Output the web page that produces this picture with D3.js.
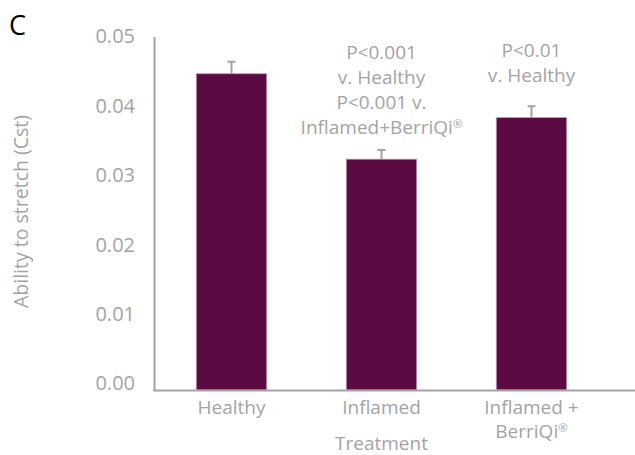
<!DOCTYPE html>
<html>
<head>
<meta charset="utf-8">
<script src="https://cdn.jsdelivr.net/npm/d3@7"></script>
<style>
  html, body { margin: 0; padding: 0; background: #fff; }
  svg { display: block; font-family: "Open Sans", sans-serif; }
</style>
</head>
<body>
<svg id="chart" width="635" height="455"></svg>
<script>
// Lung compliance by treatment group
const categories = ["Healthy", "Inflamed", "Inflamed + BerriQi®"];
const categoryLines = [["Healthy"], ["Inflamed"], ["Inflamed +", "BerriQi®"]];
const values = [0.0448, 0.0327, 0.0386];
const errors = [0.0017, 0.0013, 0.0016];
const yTicks = [0, 0.01, 0.02, 0.03, 0.04, 0.05];
const annotations = [
  [],
  ["P<0.001", "v. Healthy", "P<0.001 v.", "Inflamed+BerriQi®"],
  ["P<0.01", "v. Healthy"]
];

const svg = d3.select("#chart");
const gray = "#a3a3a6";
const barColor = "#5b0a42";

const x = d3.scaleBand().domain(categories).range([156.5, 606.5]).paddingInner(0.53).paddingOuter(0.265);
const y = d3.scaleLinear().domain([0, 0.05]).range([390, 37]);

// Writes a label, setting any trailing ® as a small superscript
function writeLine(sel, str) {
  const parts = str.split("®");
  sel.append("tspan").text(parts[0]);
  if (parts.length > 1) {
    sel.append("tspan").attr("font-size", "0.6em").attr("dy", "-0.55em").text("®");
  }
}

// Panel letter
svg.append("text").attr("x", 9).attr("y", 35)
  .attr("font-size", 27).attr("fill", "#000").text("C");

// Y axis line and tick labels
svg.append("line").attr("x1", 154.5).attr("x2", 154.5).attr("y1", y(0.05)).attr("y2", y(0) + 1)
  .attr("stroke", gray).attr("stroke-width", 2);
svg.append("g").selectAll("text").data(yTicks).join("text")
  .attr("x", 135).attr("y", d => y(d) - (d === 0.05 ? 1 : 0) - (0.05 - d) * 140)
  .attr("dy", "0.35em").attr("text-anchor", "end")
  .attr("font-size", 20).attr("fill", gray)
  .text(d => d3.format(".2f")(d));

// Bars
svg.append("g").selectAll("rect").data(values).join("rect")
  .attr("x", (d, i) => x(categories[i]))
  .attr("width", x.bandwidth())
  .attr("y", d => y(d))
  .attr("height", d => y(0) - y(d))
  .attr("fill", barColor)
  .attr("stroke", "#c9a3bb").attr("stroke-width", 0.8);

// Error bars (upper only)
const eb = svg.append("g").attr("stroke", gray).attr("stroke-width", 2);
values.forEach((v, i) => {
  const cx = x(categories[i]) + x.bandwidth() / 2;
  eb.append("line").attr("x1", cx).attr("x2", cx).attr("y1", y(v)).attr("y2", y(v + errors[i]));
  eb.append("line").attr("x1", cx - 4).attr("x2", cx + 4).attr("y1", y(v + errors[i])).attr("y2", y(v + errors[i]));
});

// X axis line
svg.append("line").attr("x1", 153.5).attr("x2", 635).attr("y1", 390.5).attr("y2", 390.5)
  .attr("stroke", gray).attr("stroke-width", 2);

// Category labels
categoryLines.forEach((lines, i) => {
  const cx = x(categories[i]) + x.bandwidth() / 2;
  lines.forEach((line, j) => {
    const t = svg.append("text").attr("text-anchor", "middle").attr("font-size", 19).attr("fill", gray)
      .attr("x", cx).attr("y", 414 + j * 24);
    writeLine(t, line);
  });
});

// Axis titles
svg.append("text").attr("x", x(categories[1]) + x.bandwidth() / 2).attr("y", 450)
  .attr("text-anchor", "middle").attr("font-size", 19).attr("fill", gray).text("Treatment");
svg.append("text").attr("transform", "translate(28,211.5) rotate(-90)")
  .attr("text-anchor", "middle").attr("font-size", 19.5).attr("fill", gray)
  .text("Ability to stretch (Cst)");

// Significance notes above bars
const noteTop = [0, 59, 57];
annotations.forEach((lines, i) => {
  const cx = x(categories[i]) + x.bandwidth() / 2;
  lines.forEach((line, j) => {
    const t = svg.append("text").attr("text-anchor", "middle").attr("font-size", 19).attr("fill", gray)
      .attr("x", cx).attr("y", noteTop[i] + j * 25);
    writeLine(t, line);
  });
});
</script>
</body>
</html>
